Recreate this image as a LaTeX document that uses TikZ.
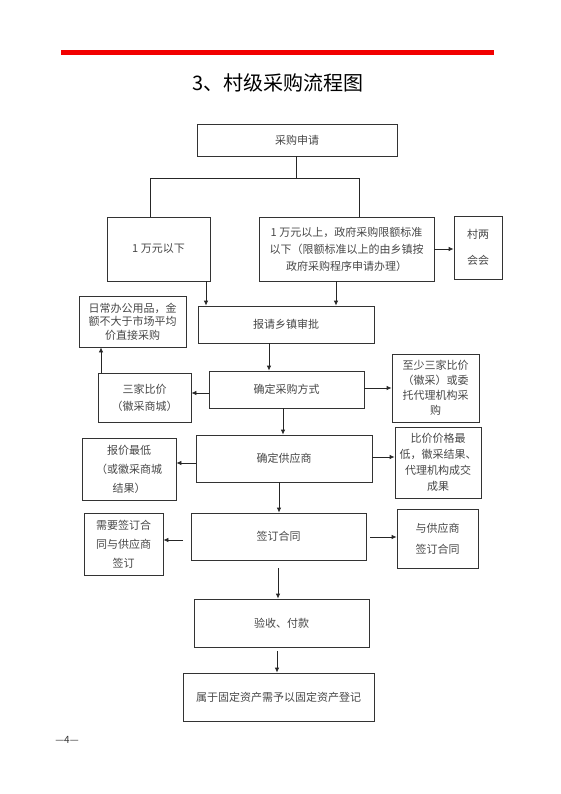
\documentclass[tikz,border=0pt]{standalone}
\usepackage{fontspec}
\setmainfont{Noto Sans CJK SC}
\usetikzlibrary{arrows.meta}
\begin{document}
\begin{tikzpicture}[x=1pt,y=-1pt,
  box/.style={draw=black!80,line width=0.8pt,inner sep=0pt,align=center,text=black!72,
    font=\fontsize{11}{16}\selectfont},
  conn/.style={line width=0.8pt,draw=black!85},
  arr/.style={conn,-{Latex[length=5pt,width=4.5pt]}}]
\useasboundingbox (0,0) rectangle (561,794);
% header
\draw[red!95!black,line width=5pt] (61,53) -- (494,53);
\node[font=\fontsize{20}{24}\selectfont] (title) at (278,83) {3、村级采购流程图};
% boxes
\node[box,minimum width=200pt,minimum height=32pt] (apply) at (297,140) {采购申请};
\node[box,minimum width=103pt,minimum height=64pt] (low) at (158.5,249) {1 万元以下};
\node[box,minimum width=175pt,minimum height=64pt,font=\fontsize{11}{17}\selectfont] (high) at (346.5,249) {1 万元以上，政府采购限额标准\\以下（限额标准以上的由乡镇按\\政府采购程序申请办理）};
\node[box,minimum width=48pt,minimum height=63pt,font=\fontsize{11}{26}\selectfont] (cun) at (478,247.5) {村两\\会会};
\node[box,minimum width=107pt,minimum height=51pt,font=\fontsize{11}{13.5}\selectfont] (daily) at (132.5,321.5) {日常办公用品，金\\额不大于市场平均\\价直接采购};
\node[box,minimum width=176pt,minimum height=37pt] (approve) at (286,324.5) {报请乡镇审批};
\node[box,minimum width=155pt,minimum height=37pt] (method) at (286.5,389.5) {确定采购方式};
\node[box,minimum width=93pt,minimum height=49pt,font=\fontsize{11}{17}\selectfont] (three) at (144.5,397.5) {三家比价\\（徽采商城）};
\node[box,minimum width=87pt,minimum height=68pt,font=\fontsize{11}{15}\selectfont] (least) at (435.5,388) {至少三家比价\\（徽采）或委\\托代理机构采\\购};
\node[box,minimum width=176pt,minimum height=47pt] (supplier) at (284,458.5) {确定供应商};
\node[box,minimum width=94pt,minimum height=62pt,font=\fontsize{11}{19}\selectfont] (lowest) at (129,469) {报价最低\\（或徽采商城\\结果）};
\node[box,minimum width=86pt,minimum height=71pt,font=\fontsize{11}{16}\selectfont] (cmp) at (438,462.5) {比价价格最\\低，徽采结果、\\代理机构成交\\成果};
\node[box,minimum width=175pt,minimum height=47pt] (sign) at (278.5,536.5) {签订合同};
\node[box,minimum width=79pt,minimum height=62pt,font=\fontsize{11}{19}\selectfont] (needsign) at (123.5,544) {需要签订合\\同与供应商\\签订};
\node[box,minimum width=81pt,minimum height=59pt,font=\fontsize{11}{21}\selectfont] (withsup) at (437.5,538.5) {与供应商\\签订合同};
\node[box,minimum width=175pt,minimum height=48pt] (accept) at (281.5,623) {验收、付款};
\node[box,minimum width=191pt,minimum height=48pt] (asset) at (278.5,697) {属于固定资产需予以固定资产登记};
\node[font=\fontsize{10}{12}\selectfont,text=black!80] (page) at (67,740) {—4—};
% helper coordinates
\coordinate (sp) at (296,178);
\coordinate (xl) at (150,0);
\coordinate (xr) at (359,0);
\coordinate (x1) at (206,0);
\coordinate (x2) at (336,0);
\coordinate (x3) at (269,0);
\coordinate (x4) at (101,0);
\coordinate (x5) at (283,0);
\coordinate (x6) at (279,0);
\coordinate (y1) at (0,249);
\coordinate (y2) at (0,393);
\coordinate (y3) at (0,388);
\coordinate (y4) at (0,463);
\coordinate (y5) at (0,457);
\coordinate (s1) at (183,540);
\coordinate (s2) at (370,537);
\coordinate (s3) at (278,568);
\coordinate (s4) at (277,651);
% connectors
\draw[conn] (apply.south -| sp) -- (sp);
\draw[conn] (sp) -| (low.north -| xl);
\draw[conn] (sp) -| (high.north -| xr);
\draw[arr] (high.east |- y1) -- (cun.west |- y1);
\draw[arr] (low.south -| x1) -- (approve.north -| x1);
\draw[arr] (high.south -| x2) -- (approve.north -| x2);
\draw[arr] (approve.south -| x3) -- (method.north -| x3);
\draw[arr] (method.west |- y2) -- (three.east |- y2);
\draw[arr] (three.north -| x4) -- (daily.south -| x4);
\draw[arr] (method.east |- y3) -- (least.west |- y3);
\draw[arr] (method.south -| x5) -- (supplier.north -| x5);
\draw[arr] (supplier.west |- y4) -- (lowest.east |- y4);
\draw[arr] (supplier.east |- y5) -- (cmp.west |- y5);
\draw[arr] (supplier.south -| x6) -- (sign.north -| x6);
\draw[arr] (s1) -- (needsign.east |- s1);
\draw[arr] (s2) -- (withsup.west |- s2);
\draw[arr] (s3) -- (accept.north -| s3);
\draw[arr] (s4) -- (asset.north -| s4);
\end{tikzpicture}
\end{document}
